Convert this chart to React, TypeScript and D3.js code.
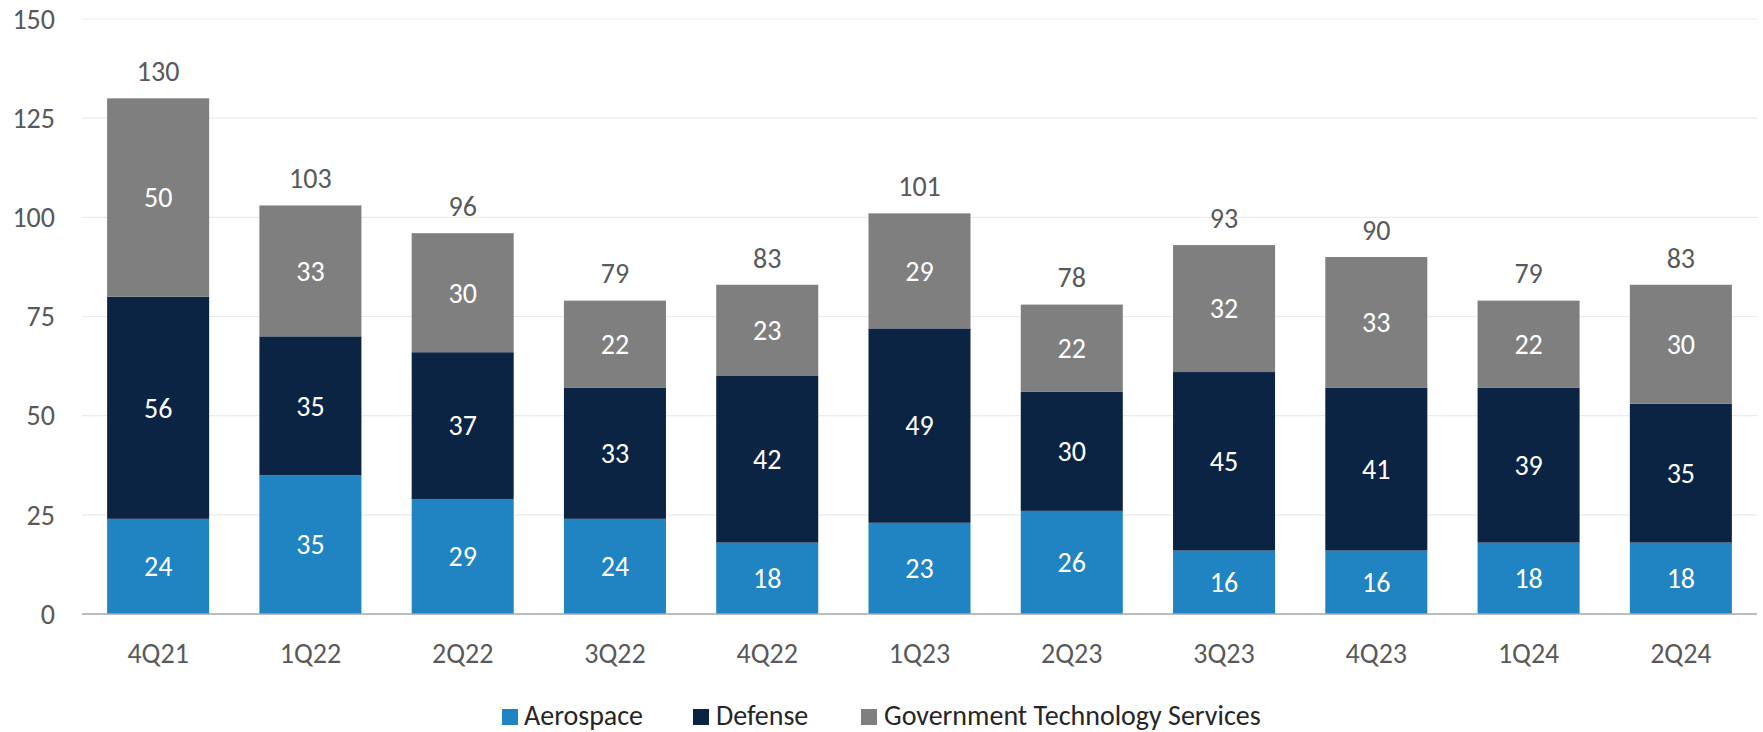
import React from "react";
import * as d3 from "d3";

const categories = ["4Q21", "1Q22", "2Q22", "3Q22", "4Q22", "1Q23", "2Q23", "3Q23", "4Q23", "1Q24", "2Q24"];
const aerospace = [24, 35, 29, 24, 18, 23, 26, 16, 16, 18, 18];
const defense = [56, 35, 37, 33, 42, 49, 30, 45, 41, 39, 35];
const govTech = [50, 33, 30, 22, 23, 29, 22, 32, 33, 22, 30];
const totals = [130, 103, 96, 79, 83, 101, 78, 93, 90, 79, 83];
const yTicks = [0, 25, 50, 75, 100, 125, 150];
const seriesNames = ["Aerospace", "Defense", "Government Technology Services"];
const seriesColors = ["#2083C2", "#0C2444", "#7F7F7F"];

const W = 1763;
const H = 732;
const FONT = "Carlito, Lato, 'Open Sans', sans-serif";
const FS = 28;

export default function App() {
  const left = 82;
  const right = 1757;
  const y0 = 614;
  const yTop = 19;

  const x = d3.scaleBand<string>().domain(categories).range([left, right]).paddingInner(0.33).paddingOuter(0.165);
  const y = d3.scaleLinear().domain([0, 150]).range([y0, yTop]);

  const table = categories.map((c, i) => ({
    cat: c,
    Aerospace: aerospace[i],
    Defense: defense[i],
    "Government Technology Services": govTech[i],
  }));
  const stack = d3.stack<any>().keys(seriesNames)(table);

  const legendItems = [
    { name: seriesNames[0], sx: 502, tx: 524 },
    { name: seriesNames[1], sx: 693, tx: 716 },
    { name: seriesNames[2], sx: 861, tx: 884 },
  ];

  return (
    <svg width={W} height={H} style={{ position: "absolute", left: 0, top: 0, background: "#fff" }} fontFamily={FONT}>
      {yTicks.map((t) => (
        <g key={t}>
          {t !== 0 && <line x1={left} x2={right} y1={y(t)} y2={y(t)} stroke="#EBEBEB" strokeWidth={1.2} />}
          <text x={55} y={y(t)} dy="0.35em" textAnchor="end" fontSize={FS} fill="#595959">
            {t}
          </text>
        </g>
      ))}
      {stack.map((s, si) => (
        <g key={s.key}>
          {s.map((d, i) => (
            <g key={i}>
              <rect
                x={x(categories[i])}
                width={x.bandwidth()}
                y={y(d[1])}
                height={y(d[0]) - y(d[1])}
                fill={seriesColors[si]}
              />
              <text
                x={(x(categories[i]) as number) + x.bandwidth() / 2}
                y={(y(d[0]) + y(d[1])) / 2}
                dy="0.35em"
                textAnchor="middle"
                fontSize={FS}
                fill="#FFFFFF"
              >
                {d[1] - d[0]}
              </text>
            </g>
          ))}
        </g>
      ))}
      <line x1={left} x2={right} y1={y0} y2={y0} stroke="#A6A6A6" strokeWidth={1.5} />
      {categories.map((c, i) => (
        <g key={c}>
          <text x={(x(c) as number) + x.bandwidth() / 2} y={653} dy="0.35em" textAnchor="middle" fontSize={FS} fill="#595959">
            {c}
          </text>
          <text x={(x(c) as number) + x.bandwidth() / 2} y={y(totals[i]) - 27} dy="0.35em" textAnchor="middle" fontSize={FS} fill="#595959">
            {totals[i]}
          </text>
        </g>
      ))}
      {legendItems.map((l, i) => (
        <g key={l.name}>
          <rect x={l.sx} y={709} width={16} height={16} fill={seriesColors[i]} />
          <text x={l.tx} y={725} fontSize={28} fill="#262626">
            {l.name}
          </text>
        </g>
      ))}
    </svg>
  );
}
